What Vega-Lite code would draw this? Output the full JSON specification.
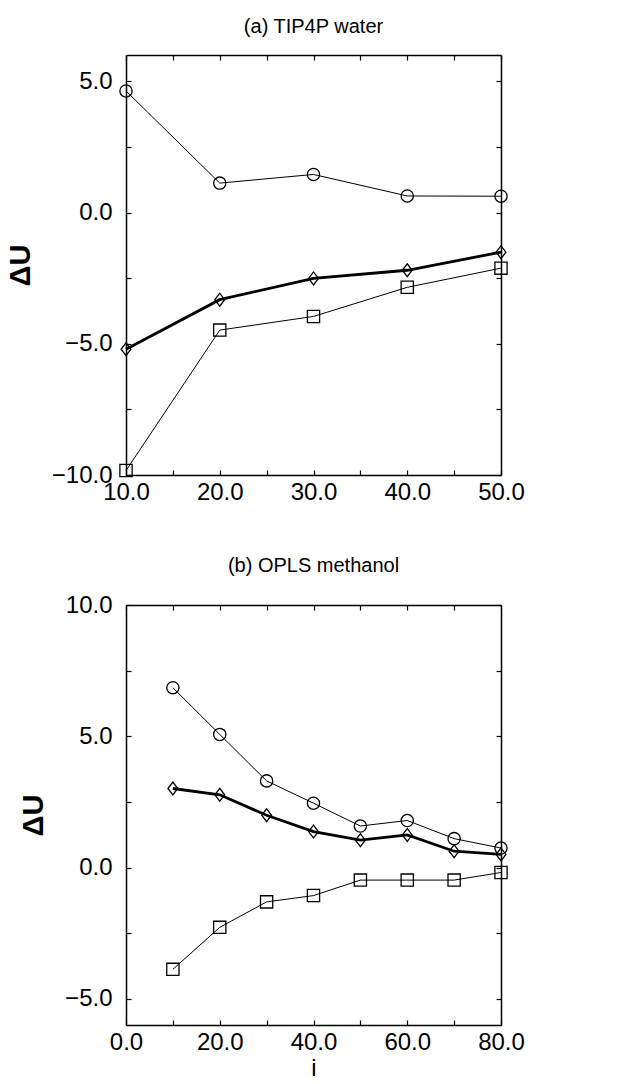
{
  "$schema": "https://vega.github.io/schema/vega-lite/v6.json",
  "background": "white",
  "padding": {"left": 6, "top": 17, "right": 10, "bottom": 0},
  "spacing": 52,
  "config": {
    "font": "Liberation Sans",
    "view": {"stroke": null},
    "title": {"fontSize": 20, "fontWeight": "normal", "color": "black", "anchor": "middle", "offset": 17},
    "axis": {
      "domainColor": "black", "domainWidth": 1.5, "tickColor": "black", "tickWidth": 1.2,
      "tickSize": -5, "labelFontSize": 24, "labelColor": "black",
      "titleFontSize": 29, "titleFontWeight": "bold", "titleColor": "black", "grid": false,
      "labelFlush": false, "labelOverlap": false
    },
    "axisX": {"labelPadding": 10},
    "axisY": {"labelPadding": 19}
  },
  "datasets": {
    "a": [
      {"i": 10, "dU": 4.63, "s": "circle"}, {"i": 20, "dU": 1.12, "s": "circle"}, {"i": 30, "dU": 1.45, "s": "circle"}, {"i": 40, "dU": 0.63, "s": "circle"}, {"i": 50, "dU": 0.62, "s": "circle"},
      {"i": 10, "dU": -9.83, "s": "square"}, {"i": 20, "dU": -4.48, "s": "square"}, {"i": 30, "dU": -3.96, "s": "square"}, {"i": 40, "dU": -2.85, "s": "square"}, {"i": 50, "dU": -2.12, "s": "square"},
      {"i": 10, "dU": -5.21, "s": "diamond"}, {"i": 20, "dU": -3.32, "s": "diamond"}, {"i": 30, "dU": -2.51, "s": "diamond"}, {"i": 40, "dU": -2.2, "s": "diamond"}, {"i": 50, "dU": -1.51, "s": "diamond"}
    ],
    "b": [
      {"i": 10, "dU": 6.85, "s": "circle"}, {"i": 20, "dU": 5.07, "s": "circle"}, {"i": 30, "dU": 3.3, "s": "circle"}, {"i": 40, "dU": 2.45, "s": "circle"}, {"i": 50, "dU": 1.58, "s": "circle"}, {"i": 60, "dU": 1.79, "s": "circle"}, {"i": 70, "dU": 1.1, "s": "circle"}, {"i": 80, "dU": 0.74, "s": "circle"},
      {"i": 10, "dU": -3.88, "s": "square"}, {"i": 20, "dU": -2.28, "s": "square"}, {"i": 30, "dU": -1.31, "s": "square"}, {"i": 40, "dU": -1.07, "s": "square"}, {"i": 50, "dU": -0.48, "s": "square"}, {"i": 60, "dU": -0.48, "s": "square"}, {"i": 70, "dU": -0.48, "s": "square"}, {"i": 80, "dU": -0.19, "s": "square"},
      {"i": 10, "dU": 3.01, "s": "diamond"}, {"i": 20, "dU": 2.77, "s": "diamond"}, {"i": 30, "dU": 1.99, "s": "diamond"}, {"i": 40, "dU": 1.37, "s": "diamond"}, {"i": 50, "dU": 1.04, "s": "diamond"}, {"i": 60, "dU": 1.24, "s": "diamond"}, {"i": 70, "dU": 0.62, "s": "diamond"}, {"i": 80, "dU": 0.5, "s": "diamond"}
    ]
  },
  "vconcat": [
    {
      "title": "(a) TIP4P water",
      "width": 375, "height": 420,
      "data": {"name": "a"},
      "layer": [
        {
          "mark": {"type": "line", "color": "black"},
          "encoding": {
            "x": {"field": "i", "type": "quantitative", "scale": {"domain": [10, 50]},
                  "axis": {"orient": "bottom", "title": null, "values": [10, 15, 20, 25, 30, 35, 40, 45, 50], "labelExpr": "datum.value % 10 === 0 ? format(datum.value, '.1f') : ''"}},
            "y": {"field": "dU", "type": "quantitative", "scale": {"domain": [-10, 5]},
                  "axis": {"orient": "left", "title": "ΔU", "titlePadding": 16, "values": [-10, -7.5, -5, -2.5, 0, 2.5, 5], "labelExpr": "datum.value % 5 === 0 ? format(datum.value, '.1f') : ''"}},
            "detail": {"field": "s"},
            "strokeWidth": {"condition": {"test": "datum.s === 'diamond'", "value": 2.8}, "value": 1}
          }
        },
        {
          "mark": {"type": "point", "filled": false, "color": "black", "strokeWidth": 1.3, "opacity": 1, "size": 150},
          "encoding": {
            "x": {"field": "i", "type": "quantitative", "axis": {"orient": "top", "title": null, "labels": false, "values": [10, 15, 20, 25, 30, 35, 40, 45, 50]}},
            "y": {"field": "dU", "type": "quantitative", "axis": {"orient": "right", "title": null, "labels": false, "values": [-10, -7.5, -5, -2.5, 0, 2.5, 5]}},
            "shape": {"field": "s", "type": "nominal", "scale": {"domain": ["circle", "diamond", "square"], "range": ["circle", "M-0.8,0L0,-1.05L0.8,0L0,1.05Z", "square"]}, "legend": null}
          }
        }
      ]
    },
    {
      "title": "(b) OPLS methanol",
      "width": 375, "height": 420,
      "data": {"name": "b"},
      "layer": [
        {
          "mark": {"type": "line", "color": "black"},
          "encoding": {
            "x": {"field": "i", "type": "quantitative", "scale": {"domain": [0, 80]},
                  "axis": {"orient": "bottom", "title": "i", "titleFontWeight": "normal", "titleFontSize": 24, "titlePadding": 2, "values": [0, 10, 20, 30, 40, 50, 60, 70, 80], "labelExpr": "datum.value % 20 === 0 ? format(datum.value, '.1f') : ''"}},
            "y": {"field": "dU", "type": "quantitative", "scale": {"domain": [-5, 10]},
                  "axis": {"orient": "left", "title": "ΔU", "titlePadding": 16, "values": [-5, -2.5, 0, 2.5, 5, 7.5, 10], "labelExpr": "datum.value % 5 === 0 ? format(datum.value, '.1f') : ''"}},
            "detail": {"field": "s"},
            "strokeWidth": {"condition": {"test": "datum.s === 'diamond'", "value": 2.8}, "value": 1}
          }
        },
        {
          "mark": {"type": "point", "filled": false, "color": "black", "strokeWidth": 1.3, "opacity": 1, "size": 150},
          "encoding": {
            "x": {"field": "i", "type": "quantitative", "axis": {"orient": "top", "title": null, "labels": false, "values": [0, 10, 20, 30, 40, 50, 60, 70, 80]}},
            "y": {"field": "dU", "type": "quantitative", "axis": {"orient": "right", "title": null, "labels": false, "values": [-5, -2.5, 0, 2.5, 5, 7.5, 10]}},
            "shape": {"field": "s", "type": "nominal", "scale": {"domain": ["circle", "diamond", "square"], "range": ["circle", "M-0.8,0L0,-1.05L0.8,0L0,1.05Z", "square"]}, "legend": null}
          }
        }
      ]
    }
  ]
}
